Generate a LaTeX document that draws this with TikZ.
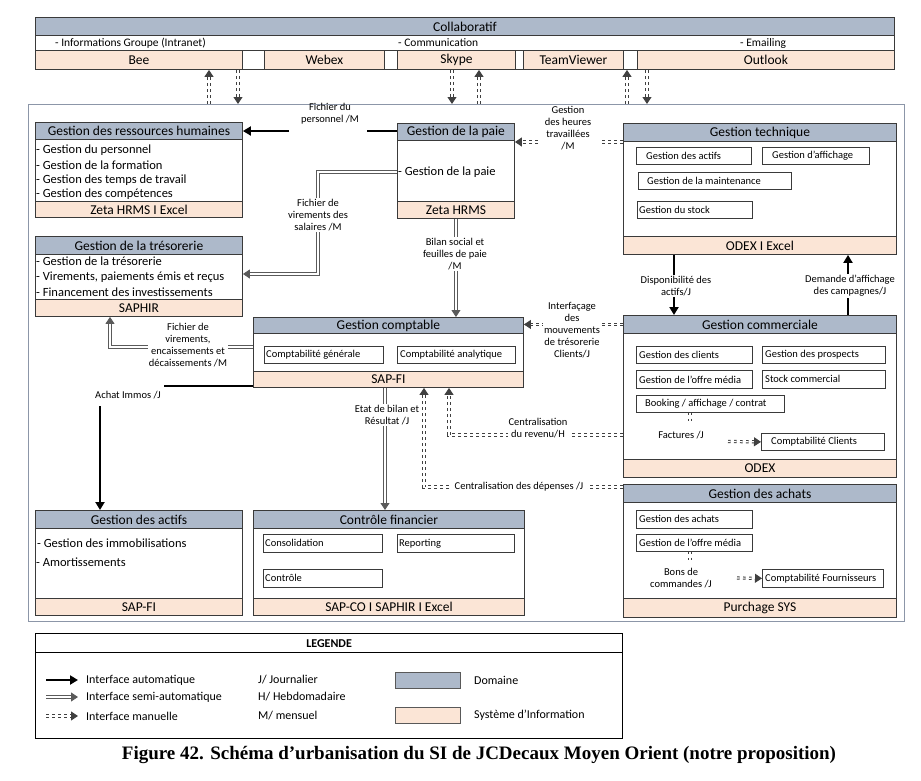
\documentclass[tikz,border=0pt]{standalone}
\usepackage{fontspec}
\setmainfont{Carlito}
\newfontfamily\capfont{Liberation Serif}
\usetikzlibrary{arrows.meta,calc}
\definecolor{hdrc}{HTML}{ADB9CA}
\definecolor{ftrc}{HTML}{FBE5D6}
\definecolor{boxc}{HTML}{3A3A3A}
\definecolor{framec}{HTML}{8C96A8}
\definecolor{manc}{HTML}{404040}
\definecolor{semic}{HTML}{5A5A5A}
\tikzset{
 bx/.style={draw=boxc, line width=0.9pt, inner sep=0pt, anchor=north west},
 hdr/.style={bx, fill=hdrc, font=\fontsize{13.5}{15}\selectfont},
 ftr/.style={bx, fill=ftrc, font=\fontsize{13.5}{15}\selectfont},
 bodyb/.style={bx, fill=white},
 subb/.style={draw=boxc, line width=0.7pt, inner sep=0pt, anchor=north west},
 subt/.style={anchor=west, inner sep=0pt, font=\fontsize{10.5}{12}\selectfont},
 listitem/.style={anchor=west, inner sep=0pt, font=\fontsize{12.5}{14}\selectfont},
 lbl/.style={font=\fontsize{10.5}{12}\selectfont, align=center, inner sep=1pt},
 lblw/.style={lbl, fill=white},
 legt/.style={anchor=west, inner sep=0pt, font=\fontsize{12}{14}\selectfont},
 autoc/.style={line width=2.4pt, draw=black},
 autoa/.style={autoc, -{Triangle[length=8pt,width=9pt]}},
 semia/.style={draw=semic, line width=0.8pt, double=white, double distance=1.8pt, -{Triangle[length=7pt,width=9pt,fill=semic]}},
 manl/.style={draw=manc, line width=1pt, double=white, double distance=1.2pt, dash pattern=on 2.6pt off 3.4pt},
 mana/.style={manl, -{Triangle[length=7pt,width=9pt,fill=manc]}},
}
\newcommand\dombox[9]{%
 \node[bodyb, minimum width=#3, minimum height=#6-#5] (#1B) at (#2,#5) {};
 \node[hdr, minimum width=#3, minimum height=#5-#4] (#1H) at (#2,#4) {#8};
 \node[ftr, minimum width=#3, minimum height=#7-#6] (#1F) at (#2,#6) {#9};
}
\newcommand\subbox[7]{%
 \node[subb, minimum width=#4, minimum height=#5] (#1) at (#2,#3) {};
 \node[subt] (#1t) at ([xshift=#6]#1.west) {#7};
}
\begin{document}
\begin{tikzpicture}[x=1pt,y=-1pt]
\useasboundingbox (0,0) rectangle (921,780);
% main frame
\node[draw=framec, line width=1.2pt, minimum width=876, minimum height=517, anchor=north west, inner sep=0pt] (frame) at (28,104) {};
% collaboratif
\node[hdr, minimum width=859, minimum height=18] (collH) at (35,17) {Collaboratif};
\node[bodyb, minimum width=859, minimum height=15] (collR) at (35,35) {};
\node[legt, font=\fontsize{11.5}{13}\selectfont] (ci1) at (55,43) {- Informations Groupe (Intranet)};
\node[legt, font=\fontsize{11.5}{13}\selectfont] (ci2) at (398,43) {- Communication};
\node[legt, font=\fontsize{11.5}{13}\selectfont] (ci3) at (740,43) {- Emailing};
\node[bodyb, minimum width=859, minimum height=19] (collS) at (35,50) {};
\node[ftr, minimum width=207, minimum height=19] (bee) at (35,50) {Bee};
\node[ftr, minimum width=120, minimum height=19] (webex) at (264,50) {Webex};
\node[ftr, minimum width=118, minimum height=19] (skype) at (397,50) {Skype};
\node[ftr, minimum width=100, minimum height=19] (teamv) at (523,50) {TeamViewer};
\node[ftr, minimum width=257, minimum height=19] (outlook) at (637,50) {Outlook};
\coordinate (cu1) at (209,104); \draw[mana] (cu1) -- (cu1 |- bee.south);
\coordinate (cd1) at (238,104); \draw[mana] (cd1 |- bee.south) -- (cd1);
\coordinate (cd2) at (452,104); \draw[mana] (cd2 |- skype.south) -- (cd2);
\coordinate (cu2) at (479,104); \draw[mana] (cu2) -- (cu2 |- skype.south);
\coordinate (cu3) at (627,104); \draw[mana] (cu3) -- (cu3 |- outlook.south);
\coordinate (cd3) at (647,104); \draw[mana] (cd3 |- outlook.south) -- (cd3);
% domain boxes
\dombox{rh}{35}{207}{122}{139}{201}{217}{Gestion des ressources humaines}{Zeta HRMS I Excel}
\node[listitem] (rh1) at (36,150) {- Gestion du personnel};
\node[listitem] (rh2) at (36,165) {- Gestion de la formation};
\node[listitem] (rh3) at (36,180) {- Gestion des temps de travail};
\node[listitem] (rh4) at (36,194) {- Gestion des compétences};
\dombox{paie}{397}{117}{123}{140}{201}{218}{Gestion de la paie}{Zeta HRMS}
\node[listitem] (paie1) at (398,172) {- Gestion de la paie};
\dombox{tech}{623}{273}{123}{141}{236}{254}{Gestion technique}{ODEX I Excel}
\subbox{tA}{636}{147}{115}{17}{10}{Gestion des actifs}
\subbox{tB}{762}{147}{107}{17}{10}{Gestion d'affichage}
\subbox{tC}{638}{172}{153}{17}{9}{Gestion de la maintenance}
\subbox{tD}{637}{201}{115}{17}{2}{Gestion du stock}
\dombox{tres}{35}{207}{236}{254}{299}{316}{Gestion de la trésorerie}{SAPHIR}
\node[listitem] (tr1) at (36,261) {- Gestion de la trésorerie};
\node[listitem] (tr2) at (36,277) {- Virements, paiements émis et reçus};
\node[listitem] (tr3) at (36,292) {- Financement des investissements};
\dombox{compt}{253}{270}{317}{333}{371}{387}{Gestion comptable}{SAP-FI}
\subbox{cg}{264}{346}{119}{17}{2}{Comptabilité générale}
\subbox{ca}{397}{346}{118}{17}{3}{Comptabilité analytique}
\dombox{comm}{623}{273}{315}{333}{459}{477}{Gestion commerciale}{ODEX}
\subbox{gcl}{636}{346}{116}{17}{3}{Gestion des clients}
\subbox{gpr}{762}{346}{123}{17}{3}{Gestion des prospects}
\subbox{gof}{636}{370}{116}{18}{3}{Gestion de l'offre média}
\subbox{stc}{762}{370}{123}{18}{3}{Stock commercial}
\subbox{book}{636}{395}{148}{17}{9}{Booking / affichage / contrat}
\subbox{ccl}{761}{433}{123}{17}{10}{Comptabilité Clients}
\dombox{act}{35}{207}{510}{528}{598}{615}{Gestion des actifs}{SAP-FI}
\node[listitem] (ac1) at (37,543) {- Gestion des immobilisations};
\node[listitem] (ac2) at (36,562) {- Amortissements};
\dombox{ctrl}{253}{271}{510}{528}{598}{615}{Contrôle financier}{SAP-CO I SAPHIR I Excel}
\subbox{cons}{263}{534}{119}{18}{2}{Consolidation}
\subbox{repo}{397}{534}{117}{18}{2}{Reporting}
\subbox{ctl}{263}{569}{119}{18}{2}{Contrôle}
\dombox{ach}{623}{273}{484}{502}{598}{617}{Gestion des achats}{Purchage SYS}
\subbox{gach}{636}{510}{116}{18}{3}{Gestion des achats}
\subbox{acho}{636}{534}{116}{17}{3}{Gestion de l'offre média}
\subbox{cfo}{762}{569}{121}{18}{3}{Comptabilité Fournisseurs}
% connectors
\coordinate (fpA) at (367,131); \coordinate (fpB) at (289,131);
\draw[autoc] (paieH.west |- fpA) -- (fpA);
\draw[autoa] (fpB) -- (rhH.east |- fpB);
\node[lbl] (lfp) at (330,114) {Fichier du\\personnel /M};
\coordinate (htA) at (600,142); \coordinate (htB) at (538,142);
\draw[manl] (techB.west |- htA) -- (htA);
\draw[mana] (htB) -- (paieB.east |- htB);
\node[lbl] (lht) at (568,128) {Gestion\\des heures\\travaillées\\/M};
\coordinate (vsA) at (318,172); \coordinate (vsB) at (318,274);
\draw[semia] (paie1.west -| paieB.west) -- (vsA) -- (vsB) -- (tresB.east |- vsB);
\node[lblw] (lvs) at (318,215) {Fichier de\\virements des\\salaires /M};
\draw[semia] (paieF.south) -- (comptH.north -| paieF.south);
\node[lblw] (lbs) at (455,254) {Bilan social et\\feuilles de paie\\/M};
\draw[mana] (commH.west) -- (comptH.east |- commH.west);
\node[lblw] (lif) at (572,330) {Interfaçage\\des\\mouvements\\de trésorerie\\Clients/J};
\coordinate (veA) at (110,347);
\draw[semia] (comptB.west |- veA) -- (veA) -- (tresF.south -| veA);
\node[lblw] (lve) at (188,345) {Fichier de\\virements,\\encaissements et\\décaissements /M};
\coordinate (aiA) at (100,386);
\draw[autoa] (comptF.west |- aiA) -- (aiA) -- (actH.north -| aiA);
\node[lblw, minimum height=22, inner xsep=3pt] (lai) at (128,395) {Achat Immos /J};
\coordinate (crA) at (449,435);
\draw[mana] (commB.west |- crA) -- (crA) -- (comptF.south -| crA);
\node[lblw] (lcr) at (538,428) {Centralisation\\du revenu/H};
\coordinate (cdA) at (424,487);
\draw[mana] (achH.west |- cdA) -- (cdA) -- (comptF.south -| cdA);
\node[lblw, inner xsep=4pt] (lcd) at (519,487) {Centralisation des dépenses /J};
\coordinate (ebA) at (385,415);
\draw[semia] (comptF.south -| ebA) -- (ctrlH.north -| ebA);
\node[lblw] (leb) at (387,415) {Etat de bilan et\\Résultat /J};
\coordinate (daA) at (674,286);
\draw[autoa] (techF.south -| daA) -- (commH.north -| daA);
\node[lblw] (lda) at (676,286) {Disponibilité des\\actifs/J};
\coordinate (dmA) at (848,286);
\draw[autoa] (commH.north -| dmA) -- (techF.south -| dmA);
\node[lblw] (ldm) at (850,286) {Demande d'affichage\\des campagnes/J};
\coordinate (faA) at (690,423);
\draw[manl] (book.south -| faA) -- (faA);
\node[lbl] (lfa) at (681,435) {Factures /J};
\coordinate (fbA) at (728,441.5);
\draw[mana] (fbA) -- (ccl.west);
\coordinate (bcA) at (690,562);
\draw[manl] (acho.south -| bcA) -- (bcA);
\node[lbl] (lbc) at (681,578) {Bons de\\commandes /J};
\coordinate (bcB) at (737,578);
\draw[mana] (bcB) -- (cfo.west);
% legend
\node[bx, draw=black, line width=1.2pt, fill=white, minimum width=587, minimum height=105] (leg) at (35,633) {};
\node[bx, draw=black, line width=1.2pt, minimum width=587, minimum height=19, font=\bfseries\fontsize{12}{14}\selectfont] (legH) at (35,633) {LEGENDE};
\coordinate (l1a) at (46,680); \coordinate (l1b) at (78,680);
\draw[autoa] (l1a) -- (l1b);
\coordinate (l2a) at (46,697); \coordinate (l2b) at (78,697);
\draw[semia] (l2a) -- (l2b);
\coordinate (l3a) at (46,716); \coordinate (l3b) at (78,716);
\draw[mana] (l3a) -- (l3b);
\node[legt] (lt1) at (86,680) {Interface automatique};
\node[legt] (lt2) at (86,697) {Interface semi-automatique};
\node[legt] (lt3) at (86,716) {Interface manuelle};
\node[legt] (lf1) at (258,680) {J/ Journalier};
\node[legt] (lf2) at (258,697) {H/ Hebdomadaire};
\node[legt] (lf3) at (258,716) {M/ mensuel};
\node[bx, fill=hdrc, draw=gray!70!black, minimum width=65, minimum height=16] (sw1) at (395,672) {};
\node[bx, fill=ftrc, draw=gray!70!black, minimum width=65, minimum height=16] (sw2) at (395,707) {};
\node[legt] (ls1) at (474,680) {Domaine};
\node[legt] (ls2) at (474,715) {Système d'Information};
% caption
\node[font=\capfont\bfseries\fontsize{19}{22}\selectfont, inner sep=0pt] (cap) at (479,755) {Figure 42. Schéma d’urbanisation du SI de JCDecaux Moyen Orient (notre proposition)};
\end{tikzpicture}
\end{document}
